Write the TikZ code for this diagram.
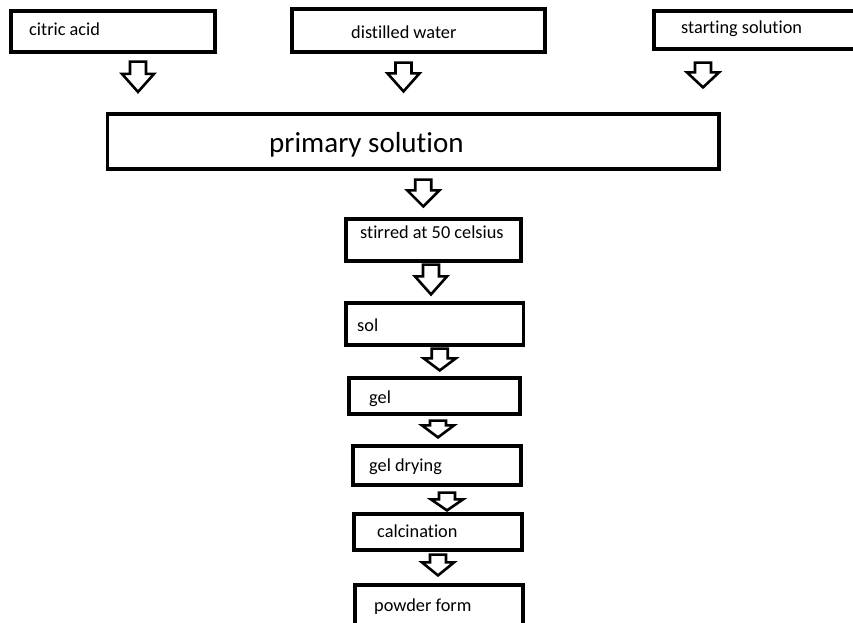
\documentclass[tikz,border=0pt]{standalone}
\usepackage{fontspec}
\setmainfont{Carlito}[Ligatures={NoCommon}]
\usetikzlibrary{calc}

% hollow block arrow: from, to, x shift, top gap, tip gap, head length
\newcommand{\flowarrow}[6]{%
  \coordinate (atop) at ($(#1.south)+(#3,#4)$);
  \coordinate (atip) at ($(atop |- #2.north)+(0,-#5)$);
  \draw[hollow] ($(atop)+(-8,0)$) -- ($(atip)+(-8,-#6)$) -- ($(atip)+(-16,-#6)$) -- (atip)
    -- ($(atip)+(16,-#6)$) -- ($(atip)+(8,-#6)$) -- ($(atop)+(8,0)$) -- cycle;
}

\begin{document}
\begin{tikzpicture}[x=1pt, y=-1pt,
  box/.style={draw, line width=3.2pt, rectangle, inner sep=0pt},
  lbl/.style={anchor=base west, inner sep=0pt, font=\fontsize{18.3}{22}\selectfont},
  hollow/.style={draw, line width=2.6pt, fill=white}]
  \fill[white] (0,0) rectangle (853,622);
  \useasboundingbox (0,0) rectangle (853,622);
  \clip (0,0) rectangle (853,622);

  % input boxes
  \node[box, minimum width=204pt, minimum height=41pt] (acid) at (113,31.5) {};
  \node[lbl] (acidtxt) at (29,35) {citric acid};
  \node[box, minimum width=253pt, minimum height=43pt] (water) at (418.5,30.5) {};
  \node[lbl] (watertxt) at (351,38) {distilled water};
  \node[box, minimum width=216pt, minimum height=38pt] (start) at (762,30) {};
  \node[lbl] (starttxt) at (681,33) {starting solution};

  % mixing
  \node[box, minimum width=611.5pt, minimum height=55pt] (primary) at (413.25,141.5) {};
  \node[lbl, font=\fontsize{29}{34}\selectfont] (primarytxt) at (269,152) {primary solution};

  % process steps
  \node[box, minimum width=175pt, minimum height=42pt] (stir) at (433.5,240) {};
  \node[lbl] (stirtxt) at (360,238) {stirred at 50 celsius};
  \node[box, minimum width=177.5pt, minimum height=42pt] (sol) at (434.75,324) {};
  \node[lbl] (soltxt) at (357,331) {sol};
  \node[box, minimum width=171pt, minimum height=36pt] (gel) at (434.5,396) {};
  \node[lbl] (geltxt) at (369,403) {gel};
  \node[box, minimum width=168pt, minimum height=39pt] (dry) at (437,465.5) {};
  \node[lbl] (drytxt) at (369,471) {gel drying};
  \node[box, minimum width=168pt, minimum height=36pt] (calc) at (438,532) {};
  \node[lbl] (calctxt) at (377,537) {calcination};
  \node[box, minimum width=168pt, minimum height=44pt] (powder) at (439,607) {};
  \node[lbl] (powdertxt) at (374,611) {powder form};

  % arrows
  \flowarrow{acid}{primary}{25}{8}{20.5}{18}
  \flowarrow{water}{primary}{-15}{9}{21}{18}
  \flowarrow{start}{primary}{-59}{12}{25}{15}
  \flowarrow{primary}{stir}{10}{9}{11}{16}
  \flowarrow{stir}{sol}{-2.5}{2}{7}{18}
  \flowarrow{sol}{gel}{5}{2}{6}{12}
  \flowarrow{gel}{dry}{3.5}{5}{7}{12}
  \flowarrow{dry}{calc}{10}{6}{2}{11}
  \flowarrow{calc}{powder}{0}{3}{8}{13}
\end{tikzpicture}
\end{document}
